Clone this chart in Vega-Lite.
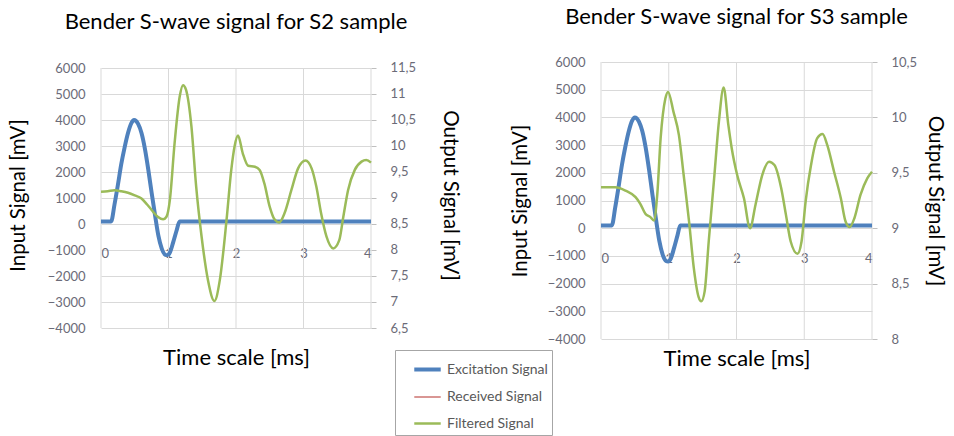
{
  "$schema": "https://vega.github.io/schema/vega-lite/v6.json",
  "padding": {"left": 8, "top": 6, "right": 4, "bottom": 0},
  "config": {
    "font": "Lato",
    "view": {"stroke": null},
    "axis": {
      "labelColor": "#6b6b78",
      "labelFontSize": 13,
      "titleFontWeight": "normal",
      "titleColor": "#000000",
      "grid": false,
      "domain": false,
      "ticks": false
    },
    "axisX": {"titleFontSize": 22},
    "axisY": {"titleFontSize": 20.5, "gridColor": "#d9d9d9"},
    "title": {"fontSize": 22, "fontWeight": "normal", "color": "#000000"},
    "legend": {
      "orient": "none",
      "legendX": 294,
      "legendY": 288,
      "strokeColor": "#a6a6a6",
      "fillColor": "#ffffff",
      "padding": 4,
      "symbolOffset": 13,
      "symbolType": "stroke",
      "symbolSize": 700,
      "labelFontSize": 14,
      "labelColor": "#595959",
      "labelOffset": 4,
      "rowPadding": 5,
      "labelExpr": "datum.label + '\u2003\u2003'"
    }
  },
  "datasets": {
    "sig": [
      {"panel": "S2", "series": "grid", "t": 0, "v": -4000, "v2": 6000},
      {"panel": "S2", "series": "grid", "t": 1, "v": -4000, "v2": 6000},
      {"panel": "S2", "series": "grid", "t": 2, "v": -4000, "v2": 6000},
      {"panel": "S2", "series": "grid", "t": 3, "v": -4000, "v2": 6000},
      {"panel": "S2", "series": "grid", "t": 4, "v": -4000, "v2": 6000},
      {"panel": "S3", "series": "grid", "t": 0, "v": -4000, "v2": 6000},
      {"panel": "S3", "series": "grid", "t": 1, "v": -4000, "v2": 6000},
      {"panel": "S3", "series": "grid", "t": 2, "v": -4000, "v2": 6000},
      {"panel": "S3", "series": "grid", "t": 3, "v": -4000, "v2": 6000},
      {"panel": "S3", "series": "grid", "t": 4, "v": -4000, "v2": 6000},
      {"panel": "S2", "series": "Excitation Signal", "t": 0, "v": 100},
      {"panel": "S2", "series": "Excitation Signal", "t": 0.15, "v": 100},
      {"panel": "S2", "series": "Excitation Signal", "t": 0.2, "v": 750},
      {"panel": "S2", "series": "Excitation Signal", "t": 0.25, "v": 1500},
      {"panel": "S2", "series": "Excitation Signal", "t": 0.3, "v": 2300},
      {"panel": "S2", "series": "Excitation Signal", "t": 0.35, "v": 2950},
      {"panel": "S2", "series": "Excitation Signal", "t": 0.4, "v": 3500},
      {"panel": "S2", "series": "Excitation Signal", "t": 0.45, "v": 3880},
      {"panel": "S2", "series": "Excitation Signal", "t": 0.49, "v": 4000},
      {"panel": "S2", "series": "Excitation Signal", "t": 0.55, "v": 3850},
      {"panel": "S2", "series": "Excitation Signal", "t": 0.6, "v": 3500},
      {"panel": "S2", "series": "Excitation Signal", "t": 0.65, "v": 2900},
      {"panel": "S2", "series": "Excitation Signal", "t": 0.7, "v": 2100},
      {"panel": "S2", "series": "Excitation Signal", "t": 0.75, "v": 1200},
      {"panel": "S2", "series": "Excitation Signal", "t": 0.8, "v": 350},
      {"panel": "S2", "series": "Excitation Signal", "t": 0.85, "v": -450},
      {"panel": "S2", "series": "Excitation Signal", "t": 0.9, "v": -950},
      {"panel": "S2", "series": "Excitation Signal", "t": 0.95, "v": -1180},
      {"panel": "S2", "series": "Excitation Signal", "t": 0.98, "v": -1200},
      {"panel": "S2", "series": "Excitation Signal", "t": 1.02, "v": -1100},
      {"panel": "S2", "series": "Excitation Signal", "t": 1.07, "v": -700},
      {"panel": "S2", "series": "Excitation Signal", "t": 1.12, "v": -250},
      {"panel": "S2", "series": "Excitation Signal", "t": 1.165, "v": 100},
      {"panel": "S2", "series": "Excitation Signal", "t": 4, "v": 100},
      {"panel": "S2", "series": "Filtered Signal", "t": 0, "v": 9.12},
      {"panel": "S2", "series": "Filtered Signal", "t": 0.1, "v": 9.13},
      {"panel": "S2", "series": "Filtered Signal", "t": 0.2, "v": 9.15},
      {"panel": "S2", "series": "Filtered Signal", "t": 0.3, "v": 9.13},
      {"panel": "S2", "series": "Filtered Signal", "t": 0.4, "v": 9.1},
      {"panel": "S2", "series": "Filtered Signal", "t": 0.5, "v": 9.05},
      {"panel": "S2", "series": "Filtered Signal", "t": 0.6, "v": 8.99},
      {"panel": "S2", "series": "Filtered Signal", "t": 0.68, "v": 8.88},
      {"panel": "S2", "series": "Filtered Signal", "t": 0.75, "v": 8.77},
      {"panel": "S2", "series": "Filtered Signal", "t": 0.84, "v": 8.64},
      {"panel": "S2", "series": "Filtered Signal", "t": 0.92, "v": 8.59},
      {"panel": "S2", "series": "Filtered Signal", "t": 0.97, "v": 8.64},
      {"panel": "S2", "series": "Filtered Signal", "t": 1.02, "v": 8.96},
      {"panel": "S2", "series": "Filtered Signal", "t": 1.09, "v": 10.05},
      {"panel": "S2", "series": "Filtered Signal", "t": 1.166, "v": 10.95},
      {"panel": "S2", "series": "Filtered Signal", "t": 1.215, "v": 11.17},
      {"panel": "S2", "series": "Filtered Signal", "t": 1.26, "v": 11.08},
      {"panel": "S2", "series": "Filtered Signal", "t": 1.34, "v": 10.37},
      {"panel": "S2", "series": "Filtered Signal", "t": 1.41, "v": 9.22},
      {"panel": "S2", "series": "Filtered Signal", "t": 1.49, "v": 8.26},
      {"panel": "S2", "series": "Filtered Signal", "t": 1.585, "v": 7.42},
      {"panel": "S2", "series": "Filtered Signal", "t": 1.68, "v": 7.02},
      {"panel": "S2", "series": "Filtered Signal", "t": 1.76, "v": 7.42},
      {"panel": "S2", "series": "Filtered Signal", "t": 1.86, "v": 8.58},
      {"panel": "S2", "series": "Filtered Signal", "t": 1.93, "v": 9.54},
      {"panel": "S2", "series": "Filtered Signal", "t": 1.98, "v": 10.0},
      {"panel": "S2", "series": "Filtered Signal", "t": 2.03, "v": 10.2},
      {"panel": "S2", "series": "Filtered Signal", "t": 2.1, "v": 9.86},
      {"panel": "S2", "series": "Filtered Signal", "t": 2.18, "v": 9.62},
      {"panel": "S2", "series": "Filtered Signal", "t": 2.28, "v": 9.6},
      {"panel": "S2", "series": "Filtered Signal", "t": 2.35, "v": 9.54},
      {"panel": "S2", "series": "Filtered Signal", "t": 2.42, "v": 9.28},
      {"panel": "S2", "series": "Filtered Signal", "t": 2.5, "v": 8.83},
      {"panel": "S2", "series": "Filtered Signal", "t": 2.57, "v": 8.59},
      {"panel": "S2", "series": "Filtered Signal", "t": 2.64, "v": 8.53},
      {"panel": "S2", "series": "Filtered Signal", "t": 2.72, "v": 8.71},
      {"panel": "S2", "series": "Filtered Signal", "t": 2.82, "v": 9.15},
      {"panel": "S2", "series": "Filtered Signal", "t": 2.92, "v": 9.57},
      {"panel": "S2", "series": "Filtered Signal", "t": 3.03, "v": 9.72},
      {"panel": "S2", "series": "Filtered Signal", "t": 3.12, "v": 9.57},
      {"panel": "S2", "series": "Filtered Signal", "t": 3.19, "v": 9.22},
      {"panel": "S2", "series": "Filtered Signal", "t": 3.26, "v": 8.71},
      {"panel": "S2", "series": "Filtered Signal", "t": 3.34, "v": 8.26},
      {"panel": "S2", "series": "Filtered Signal", "t": 3.44, "v": 8.03},
      {"panel": "S2", "series": "Filtered Signal", "t": 3.53, "v": 8.19},
      {"panel": "S2", "series": "Filtered Signal", "t": 3.59, "v": 8.64},
      {"panel": "S2", "series": "Filtered Signal", "t": 3.66, "v": 9.15},
      {"panel": "S2", "series": "Filtered Signal", "t": 3.76, "v": 9.54},
      {"panel": "S2", "series": "Filtered Signal", "t": 3.86, "v": 9.7},
      {"panel": "S2", "series": "Filtered Signal", "t": 3.93, "v": 9.73},
      {"panel": "S2", "series": "Filtered Signal", "t": 4.0, "v": 9.68},
      {"panel": "S3", "series": "Excitation Signal", "t": 0, "v": 100},
      {"panel": "S3", "series": "Excitation Signal", "t": 0.16, "v": 100},
      {"panel": "S3", "series": "Excitation Signal", "t": 0.21, "v": 750},
      {"panel": "S3", "series": "Excitation Signal", "t": 0.26, "v": 1500},
      {"panel": "S3", "series": "Excitation Signal", "t": 0.31, "v": 2300},
      {"panel": "S3", "series": "Excitation Signal", "t": 0.36, "v": 2950},
      {"panel": "S3", "series": "Excitation Signal", "t": 0.41, "v": 3500},
      {"panel": "S3", "series": "Excitation Signal", "t": 0.46, "v": 3880},
      {"panel": "S3", "series": "Excitation Signal", "t": 0.5, "v": 4000},
      {"panel": "S3", "series": "Excitation Signal", "t": 0.56, "v": 3850},
      {"panel": "S3", "series": "Excitation Signal", "t": 0.61, "v": 3500},
      {"panel": "S3", "series": "Excitation Signal", "t": 0.66, "v": 2900},
      {"panel": "S3", "series": "Excitation Signal", "t": 0.71, "v": 2100},
      {"panel": "S3", "series": "Excitation Signal", "t": 0.76, "v": 1200},
      {"panel": "S3", "series": "Excitation Signal", "t": 0.81, "v": 350},
      {"panel": "S3", "series": "Excitation Signal", "t": 0.86, "v": -450},
      {"panel": "S3", "series": "Excitation Signal", "t": 0.91, "v": -950},
      {"panel": "S3", "series": "Excitation Signal", "t": 0.96, "v": -1180},
      {"panel": "S3", "series": "Excitation Signal", "t": 0.99, "v": -1200},
      {"panel": "S3", "series": "Excitation Signal", "t": 1.03, "v": -1100},
      {"panel": "S3", "series": "Excitation Signal", "t": 1.08, "v": -700},
      {"panel": "S3", "series": "Excitation Signal", "t": 1.13, "v": -250},
      {"panel": "S3", "series": "Excitation Signal", "t": 1.17, "v": 100},
      {"panel": "S3", "series": "Excitation Signal", "t": 4, "v": 100},
      {"panel": "S3", "series": "Filtered Signal", "t": 0, "v": 9.37},
      {"panel": "S3", "series": "Filtered Signal", "t": 0.1, "v": 9.37},
      {"panel": "S3", "series": "Filtered Signal", "t": 0.21, "v": 9.37},
      {"panel": "S3", "series": "Filtered Signal", "t": 0.36, "v": 9.34},
      {"panel": "S3", "series": "Filtered Signal", "t": 0.51, "v": 9.28},
      {"panel": "S3", "series": "Filtered Signal", "t": 0.58, "v": 9.22},
      {"panel": "S3", "series": "Filtered Signal", "t": 0.655, "v": 9.13},
      {"panel": "S3", "series": "Filtered Signal", "t": 0.73, "v": 9.1},
      {"panel": "S3", "series": "Filtered Signal", "t": 0.78, "v": 9.07},
      {"panel": "S3", "series": "Filtered Signal", "t": 0.83, "v": 9.3},
      {"panel": "S3", "series": "Filtered Signal", "t": 0.88, "v": 9.81},
      {"panel": "S3", "series": "Filtered Signal", "t": 0.95, "v": 10.17},
      {"panel": "S3", "series": "Filtered Signal", "t": 0.99, "v": 10.23},
      {"panel": "S3", "series": "Filtered Signal", "t": 1.07, "v": 10.05},
      {"panel": "S3", "series": "Filtered Signal", "t": 1.15, "v": 9.84},
      {"panel": "S3", "series": "Filtered Signal", "t": 1.22, "v": 9.48},
      {"panel": "S3", "series": "Filtered Signal", "t": 1.3, "v": 9.06},
      {"panel": "S3", "series": "Filtered Signal", "t": 1.37, "v": 8.64},
      {"panel": "S3", "series": "Filtered Signal", "t": 1.44, "v": 8.38},
      {"panel": "S3", "series": "Filtered Signal", "t": 1.48, "v": 8.34},
      {"panel": "S3", "series": "Filtered Signal", "t": 1.53, "v": 8.43},
      {"panel": "S3", "series": "Filtered Signal", "t": 1.59, "v": 8.88},
      {"panel": "S3", "series": "Filtered Signal", "t": 1.67, "v": 9.45},
      {"panel": "S3", "series": "Filtered Signal", "t": 1.74, "v": 9.96},
      {"panel": "S3", "series": "Filtered Signal", "t": 1.81, "v": 10.27},
      {"panel": "S3", "series": "Filtered Signal", "t": 1.88, "v": 9.93},
      {"panel": "S3", "series": "Filtered Signal", "t": 1.93, "v": 9.72},
      {"panel": "S3", "series": "Filtered Signal", "t": 2.01, "v": 9.48},
      {"panel": "S3", "series": "Filtered Signal", "t": 2.11, "v": 9.27},
      {"panel": "S3", "series": "Filtered Signal", "t": 2.2, "v": 9.0},
      {"panel": "S3", "series": "Filtered Signal", "t": 2.28, "v": 9.21},
      {"panel": "S3", "series": "Filtered Signal", "t": 2.38, "v": 9.48},
      {"panel": "S3", "series": "Filtered Signal", "t": 2.48, "v": 9.6},
      {"panel": "S3", "series": "Filtered Signal", "t": 2.56, "v": 9.57},
      {"panel": "S3", "series": "Filtered Signal", "t": 2.66, "v": 9.36},
      {"panel": "S3", "series": "Filtered Signal", "t": 2.73, "v": 9.12},
      {"panel": "S3", "series": "Filtered Signal", "t": 2.8, "v": 8.88},
      {"panel": "S3", "series": "Filtered Signal", "t": 2.9, "v": 8.77},
      {"panel": "S3", "series": "Filtered Signal", "t": 2.96, "v": 8.88},
      {"panel": "S3", "series": "Filtered Signal", "t": 3.02, "v": 9.24},
      {"panel": "S3", "series": "Filtered Signal", "t": 3.1, "v": 9.57},
      {"panel": "S3", "series": "Filtered Signal", "t": 3.19, "v": 9.81},
      {"panel": "S3", "series": "Filtered Signal", "t": 3.27, "v": 9.85},
      {"panel": "S3", "series": "Filtered Signal", "t": 3.34, "v": 9.75},
      {"panel": "S3", "series": "Filtered Signal", "t": 3.44, "v": 9.51},
      {"panel": "S3", "series": "Filtered Signal", "t": 3.54, "v": 9.27},
      {"panel": "S3", "series": "Filtered Signal", "t": 3.61, "v": 9.06},
      {"panel": "S3", "series": "Filtered Signal", "t": 3.67, "v": 9.01},
      {"panel": "S3", "series": "Filtered Signal", "t": 3.74, "v": 9.09},
      {"panel": "S3", "series": "Filtered Signal", "t": 3.83, "v": 9.3},
      {"panel": "S3", "series": "Filtered Signal", "t": 3.93, "v": 9.45},
      {"panel": "S3", "series": "Filtered Signal", "t": 4.0, "v": 9.51}
    ]
  },
  "spacing": 50,
  "hconcat": [
    {
      "title": {"text": "Bender S-wave signal for S2 sample", "offset": 28},
      "width": 270,
      "height": 266,
      "data": {"name": "sig"},
      "transform": [{"filter": "datum.panel == 'S2'"}],
      "encoding": {
        "x": {
          "field": "t", "type": "quantitative",
          "scale": {"domain": [0, 4], "nice": false},
          "axis": {"values": [0, 1, 2, 3, 4], "title": "Time scale [ms]", "offset": -83, "labelPadding": 2, "titlePadding": 87}
        }
      },
      "layer": [
        {
          "layer": [
            {
              "transform": [{"filter": "datum.series == 'grid'"}],
              "mark": {"type": "rule", "color": "#d9d9d9", "strokeWidth": 1},
              "encoding": {
                "y": {
                  "field": "v", "type": "quantitative",
                  "scale": {"domain": [-4000, 6231], "nice": false, "zero": false},
                  "axis": {"values": [-4000, -3000, -2000, -1000, 0, 1000, 2000, 3000, 4000, 5000, 6000], "format": "d", "grid": true, "title": "Input Signal [mV]", "labelPadding": 16, "titlePadding": 19}
                },
                "y2": {"field": "v2"}
              }
            },
            {
              "transform": [{"filter": "datum.series == 'Excitation Signal'"}],
              "mark": {"type": "line", "interpolate": "monotone"},
              "encoding": {
                "y": {
                  "field": "v", "type": "quantitative",
                  "scale": {"domain": [-4000, 6231], "nice": false, "zero": false},
                  "axis": {"values": [-4000, -3000, -2000, -1000, 0, 1000, 2000, 3000, 4000, 5000, 6000], "format": "d", "grid": true, "title": "Input Signal [mV]", "labelPadding": 16, "titlePadding": 19}
                },
                "color": {
                  "field": "series", "type": "nominal",
                  "scale": {"domain": ["Excitation Signal", "Received Signal", "Filtered Signal"], "range": ["#4f81bd", "#c0504d", "#9bbb59"]},
                  "legend": {"title": null}
                },
                "strokeWidth": {
                  "field": "series", "type": "nominal",
                  "scale": {"type": "ordinal", "domain": ["Excitation Signal", "Received Signal", "Filtered Signal"], "range": [4, 1.2, 2.5]},
                  "legend": {"title": null}
                }
              }
            }
          ]
        },
        {
          "transform": [{"filter": "datum.series == 'Filtered Signal'"}],
          "mark": {"type": "line", "interpolate": "monotone"},
          "encoding": {
            "y": {
              "field": "v", "type": "quantitative",
              "scale": {"domain": [6.5, 11.615], "nice": false, "zero": false},
              "axis": {
                "orient": "right", "grid": false,
                "values": [6.5, 7, 7.5, 8, 8.5, 9, 9.5, 10, 10.5, 11, 11.5],
                "labelExpr": "replace(format(datum.value, '.1~f'), '.', ',')",
                "ticks": true, "tickColor": "#bfbfbf", "tickSize": 5,
                "labelPadding": 14,
                "title": "Output Signal [mV]", "titlePadding": 24
              }
            },
            "color": {
              "field": "series", "type": "nominal",
              "scale": {"domain": ["Excitation Signal", "Received Signal", "Filtered Signal"], "range": ["#4f81bd", "#c0504d", "#9bbb59"]},
              "legend": {"title": null}
            },
            "strokeWidth": {
              "field": "series", "type": "nominal",
              "scale": {"type": "ordinal", "domain": ["Excitation Signal", "Received Signal", "Filtered Signal"], "range": [4, 1.2, 2.5]},
              "legend": {"title": null}
            }
          }
        }
      ],
      "resolve": {"scale": {"y": "independent"}}
    },
    {
      "title": {"text": "Bender S-wave signal for S3 sample", "offset": 27},
      "width": 271,
      "height": 277,
      "data": {"name": "sig"},
      "transform": [{"filter": "datum.panel == 'S3'"}],
      "encoding": {
        "x": {
          "field": "t", "type": "quantitative",
          "scale": {"domain": [0, 4], "nice": false},
          "axis": {"values": [0, 1, 2, 3, 4], "title": "Time scale [ms]", "offset": -89, "labelPadding": 2, "titlePadding": 83}
        }
      },
      "layer": [
        {
          "layer": [
            {
              "transform": [{"filter": "datum.series == 'grid'"}],
              "mark": {"type": "rule", "color": "#d9d9d9", "strokeWidth": 1},
              "encoding": {
                "y": {
                  "field": "v", "type": "quantitative",
                  "scale": {"domain": [-4000, 6000], "nice": false, "zero": false},
                  "axis": {"values": [-4000, -3000, -2000, -1000, 0, 1000, 2000, 3000, 4000, 5000, 6000], "format": "d", "grid": true, "title": "Input Signal [mV]", "labelPadding": 16, "titlePadding": 17}
                },
                "y2": {"field": "v2"}
              }
            },
            {
              "transform": [{"filter": "datum.series == 'Excitation Signal'"}],
              "mark": {"type": "line", "interpolate": "monotone"},
              "encoding": {
                "y": {
                  "field": "v", "type": "quantitative",
                  "scale": {"domain": [-4000, 6000], "nice": false, "zero": false},
                  "axis": {"values": [-4000, -3000, -2000, -1000, 0, 1000, 2000, 3000, 4000, 5000, 6000], "format": "d", "grid": true, "title": "Input Signal [mV]", "labelPadding": 16, "titlePadding": 17}
                },
                "color": {
                  "field": "series", "type": "nominal",
                  "scale": {"domain": ["Excitation Signal", "Received Signal", "Filtered Signal"], "range": ["#4f81bd", "#c0504d", "#9bbb59"]},
                  "legend": {"title": null}
                },
                "strokeWidth": {
                  "field": "series", "type": "nominal",
                  "scale": {"type": "ordinal", "domain": ["Excitation Signal", "Received Signal", "Filtered Signal"], "range": [4, 1.2, 2.5]},
                  "legend": {"title": null}
                }
              }
            }
          ]
        },
        {
          "transform": [{"filter": "datum.series == 'Filtered Signal'"}],
          "mark": {"type": "line", "interpolate": "monotone"},
          "encoding": {
            "y": {
              "field": "v", "type": "quantitative",
              "scale": {"domain": [8, 10.5], "nice": false, "zero": false},
              "axis": {
                "orient": "right", "grid": false,
                "values": [8, 8.5, 9, 9.5, 10, 10.5],
                "labelExpr": "replace(format(datum.value, '.1~f'), '.', ',')",
                "ticks": true, "tickColor": "#bfbfbf", "tickSize": 5,
                "labelPadding": 14,
                "title": "Output Signal [mV]", "titlePadding": 8
              }
            },
            "color": {
              "field": "series", "type": "nominal",
              "scale": {"domain": ["Excitation Signal", "Received Signal", "Filtered Signal"], "range": ["#4f81bd", "#c0504d", "#9bbb59"]},
              "legend": {"title": null}
            },
            "strokeWidth": {
              "field": "series", "type": "nominal",
              "scale": {"type": "ordinal", "domain": ["Excitation Signal", "Received Signal", "Filtered Signal"], "range": [4, 1.2, 2.5]},
              "legend": {"title": null}
            }
          }
        }
      ],
      "resolve": {"scale": {"y": "independent"}}
    }
  ]
}
